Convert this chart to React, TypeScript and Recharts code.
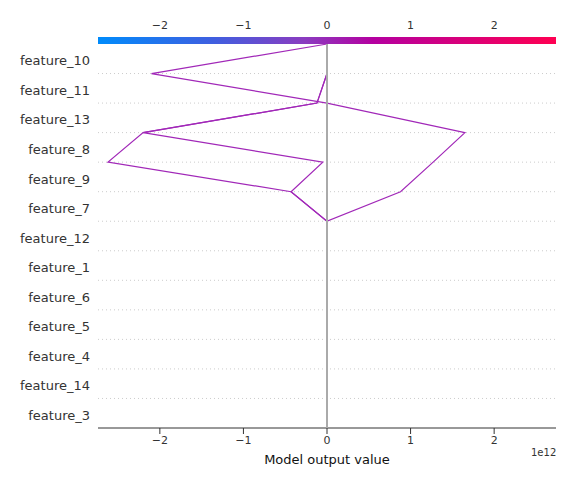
import { ComposedChart, Scatter, XAxis, YAxis, ReferenceLine, CartesianGrid } from 'recharts';

const features = ['feature_10', 'feature_11', 'feature_13', 'feature_8', 'feature_9', 'feature_7', 'feature_12', 'feature_1', 'feature_6', 'feature_5', 'feature_4', 'feature_14', 'feature_3'];
const xTicks = [-2, -1, 0, 1, 2];
// cumulative model output (x 1e12) at row boundaries, bottom (pos 0) to top (pos 13)
const line1 = [0, 0, 0, 0, 0, 0, 0, 0, 0.88, 1.27, 1.65, 0, -2.1, 0];
const line2 = [0, 0, 0, 0, 0, 0, 0, 0, -0.43, -0.05, -2.2, -0.12, 0, 0];
const line3 = [0, 0, 0, 0, 0, 0, 0, 0, -0.43, -2.62, -2.2, -0.12, 0, 0];

const toPts = (vals: number[]) => vals.map((v, i) => ({ x: v, pos: i }));
const n = features.length;
const yTicks = features.map((_, i) => n - 1 - i + 0.5);
const gridY = Array.from({ length: n - 1 }, (_, i) => i + 1);

export default function App() {
  const tick = { fontSize: 11, fill: '#333', fontFamily: 'DejaVu Sans' };
  return (
    <div style={{ position: 'absolute', left: 0, top: 0, width: 576, height: 482, fontFamily: 'DejaVu Sans' }}>
      <ComposedChart width={576} height={482} margin={{ top: 14, right: 20, bottom: 24, left: 8 }}>
        <CartesianGrid horizontal vertical={false} horizontalValues={gridY} stroke="#ccc" strokeDasharray="1 3" />
        <XAxis xAxisId="b" type="number" dataKey="x" domain={[-2.74, 2.74]} ticks={xTicks} allowDataOverflow
          tick={tick} tickFormatter={(v) => String(v).replace('-', '\u2212')} stroke="#333" height={30}
          label={{ value: 'Model output value', position: 'insideBottom', offset: -6, fontSize: 13, fill: '#111' }} />
        <XAxis xAxisId="t" orientation="top" type="number" dataKey="x" domain={[-2.74, 2.74]} ticks={xTicks} allowDataOverflow
          tick={tick} tickFormatter={(v) => String(v).replace('-', '\u2212')} axisLine={false} stroke="#333" height={30} tickMargin={9} />
        <YAxis type="number" dataKey="pos" domain={[0, n]} ticks={yTicks} width={90} axisLine={false} tickLine={false}
          tickFormatter={(v) => features[n - 1 - Math.floor(v)]} tick={{ fontSize: 13, fill: '#333', dy: 2 }} />
        {[line1, line2, line3].map((l, i) => (
          <Scatter key={i} xAxisId="b" data={toPts(l)} line={{ stroke: '#a128b8', strokeWidth: 1.2 }} shape={() => null} isAnimationActive={false} />
        ))}
        <ReferenceLine xAxisId="b" x={0} stroke="#aaa" strokeWidth={2} zIndex={1000} />
      </ComposedChart>
      <div style={{ position: 'absolute', left: 98, top: 37, width: 458, height: 7,
        background: 'linear-gradient(to right, #008bfb, #3f5fe0 25%, #8a3cc0 45%, #b400a0 60%, #ff0052)' }} />
      <div style={{ position: 'absolute', left: 531, top: 447, fontSize: 10, color: '#333' }}>1e12</div>
    </div>
  );
}
